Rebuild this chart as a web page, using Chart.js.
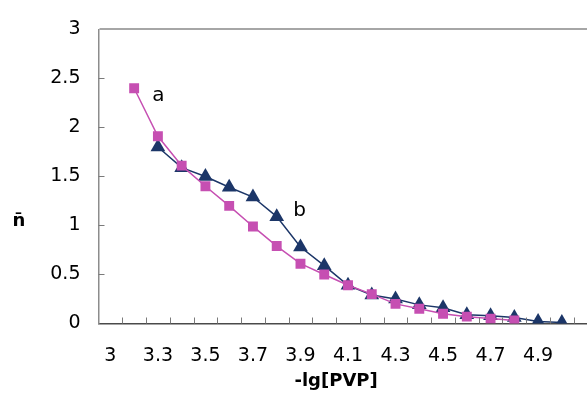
<!DOCTYPE html>
<html>
<head>
<meta charset="utf-8">
<script src="https://cdn.jsdelivr.net/npm/chart.js@4/dist/chart.umd.min.js"></script>
<style>
  html, body { margin: 0; padding: 0; background: #fff; overflow: hidden; }
  #wrap { width: 620px; height: 394px; }
</style>
</head>
<body>
<div id="wrap"><canvas id="c" width="620" height="394"></canvas></div>
<script>
// -lg[PVP] categories (last one is only room at the right edge)
const categories = ['3', '3.2', '3.3', '3.4', '3.5', '3.6', '3.7', '3.8', '3.9', '4',
  '4.1', '4.2', '4.3', '4.4', '4.5', '4.6', '4.7', '4.8', '4.9', '5', '5.1'];
// category labels that are printed under the axis
const tickLabels = ['3', '3.3', '3.5', '3.7', '3.9', '4.1', '4.3', '4.5', '4.7', '4.9'];
// curve a (squares)
const seriesA = [null, 2.4, 1.91, 1.61, 1.4, 1.2, 0.99, 0.79, 0.61, 0.5,
  0.39, 0.3, 0.2, 0.15, 0.1, 0.07, 0.05, 0.03, null, null, null];
// curve b (triangles)
const seriesB = [null, null, 1.8, 1.59, 1.5, 1.39, 1.29, 1.09, 0.78, 0.59,
  0.39, 0.29, 0.25, 0.19, 0.16, 0.09, 0.08, 0.06, 0.02, 0.01, null];
// curve name labels: [text, category position, value]
const curveNames = [['a', 2.02, 2.32], ['b', 7.96, 1.15]];

const FONT = "'DejaVu Sans', 'Liberation Sans', Arial, sans-serif";
const PINK = '#c64fb2';
const NAVY = '#1c3668';

const decorations = {
  id: 'decorations',
  afterDraw(chart) {
    const { ctx, chartArea: a, scales: { x, y } } = chart;
    ctx.save();
    // inward tick marks on the category axis (between categories)
    ctx.strokeStyle = '#7a7a7a';
    ctx.lineWidth = 1;
    const n = categories.length;
    for (let i = 1; i <= n; i++) {
      const px = Math.round(a.left + i * (a.right - a.left) / n) + 0.5;
      ctx.beginPath();
      ctx.moveTo(px, a.bottom);
      ctx.lineTo(px, a.bottom - 6);
      ctx.stroke();
    }
    // inward tick marks on the value axis
    y.ticks.forEach(t => {
      if (t.value <= 0 || t.value >= 3) return;
      const py = Math.round(y.getPixelForValue(t.value)) + 0.5;
      ctx.beginPath();
      ctx.moveTo(a.left, py);
      ctx.lineTo(a.left + 6, py);
      ctx.stroke();
    });
    // curve names
    ctx.fillStyle = '#000';
    ctx.font = '20px ' + FONT;
    ctx.textAlign = 'center';
    ctx.textBaseline = 'middle';
    curveNames.forEach(([t, cx, cy]) => {
      ctx.fillText(t, x.getPixelForValue(cx), y.getPixelForValue(cy));
    });
    // axis titles
    ctx.font = 'bold 18px ' + FONT;
    ctx.fillText('-lg[PVP]', x.getPixelForValue(9.5), 381);
    ctx.fillText('n\u0304', 19, 221);
    ctx.restore();
  }
};

new Chart(document.getElementById('c'), {
  type: 'line',
  data: {
    labels: categories,
    datasets: [
      {
        label: 'a',
        data: seriesA,
        borderColor: PINK,
        backgroundColor: PINK,
        borderWidth: 1.5,
        pointStyle: 'rect',
        pointRadius: 7,
        pointBorderWidth: 0,
        tension: 0
      },
      {
        label: 'b',
        data: seriesB,
        borderColor: NAVY,
        backgroundColor: NAVY,
        borderWidth: 1.5,
        pointStyle: 'triangle',
        pointRadius: 8.5,
        pointBorderWidth: 0,
        tension: 0
      }
    ]
  },
  options: {
    responsive: false,
    animation: false,
    devicePixelRatio: 1,
    layout: { padding: { top: 21, right: 22.5, left: 0, bottom: 0 } },
    plugins: { legend: { display: false }, tooltip: { enabled: false } },
    scales: {
      x: {
        type: 'category',
        offset: true,
        afterFit: s => { s.height = 70.5; },
        grid: { display: false, drawTicks: false },
        border: { display: true, color: '#4a4a4a', width: 1.5 },
        ticks: {
          autoSkip: false,
          maxRotation: 0,
          padding: 21,
          color: '#000',
          font: { family: FONT, size: 19 },
          callback: (v, i) => tickLabels.includes(categories[i]) ? categories[i] : ''
        }
      },
      y: {
        min: 0,
        max: 3,
        afterFit: s => { s.width = 98.5; },
        grid: {
          drawTicks: false,
          color: c => (c.tick && c.tick.value === 3) ? '#a6a6a6' : 'rgba(0,0,0,0)',
          lineWidth: c => (c.tick && c.tick.value === 3) ? 2 : 0
        },
        border: { display: true, color: '#8c8c8c', width: 1.5 },
        ticks: {
          stepSize: 0.5,
          padding: 18,
          color: '#000',
          font: { family: FONT, size: 19 },
          callback: v => String(Math.round(v * 10) / 10)
        }
      }
    }
  },
  plugins: [decorations]
});
</script>
</body>
</html>
